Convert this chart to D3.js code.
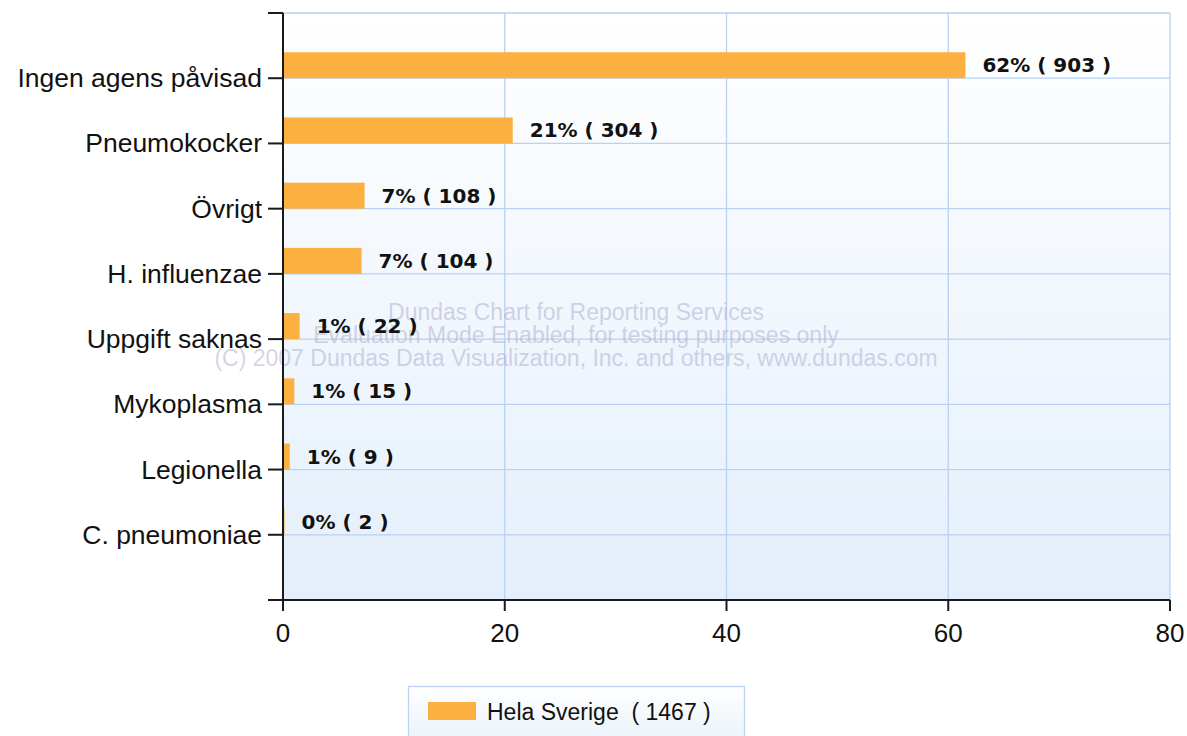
<!DOCTYPE html>
<html><head><meta charset="utf-8">
<script src="https://cdn.jsdelivr.net/npm/d3@7"></script>
<style>
html,body{margin:0;padding:0;background:#fff;}
svg{display:block;}
</style></head>
<body>
<svg id="chart" width="1187" height="736"></svg>
<script>
const categories = ["Ingen agens påvisad","Pneumokocker","Övrigt","H. influenzae","Uppgift saknas","Mykoplasma","Legionella","C. pneumoniae"];
const percentValues = [61.55, 20.72, 7.36, 7.09, 1.50, 1.02, 0.61, 0.14];
const counts = [903, 304, 108, 104, 22, 15, 9, 2];
const pctLabels = ["62%","21%","7%","7%","1%","1%","1%","0%"];
const xTicks = [0, 20, 40, 60, 80];
const seriesName = "Hela Sverige";
const seriesTotal = 1467;

(function(){
const svg = d3.select("#chart");
const pl = 283, pr = 1170, pt = 13, pb = 600;
const barColor = "#fbb040";

const defs = svg.append("defs");
const grad = defs.append("linearGradient").attr("id","bg").attr("x1",0).attr("y1",0).attr("x2",0).attr("y2",1);
grad.append("stop").attr("offset","0%").attr("stop-color","#ffffff");
grad.append("stop").attr("offset","100%").attr("stop-color","#e4effb");
const lgrad = defs.append("linearGradient").attr("id","lbg").attr("x1",0).attr("y1",0).attr("x2",0).attr("y2",1);
lgrad.append("stop").attr("offset","0%").attr("stop-color","#ffffff");
lgrad.append("stop").attr("offset","100%").attr("stop-color","#e8f1fb");

const x = d3.scaleLinear().domain([0, 80]).range([pl, pr]);
// 8 categories in 9 intervals (empty slot top and bottom)
const yIdx = d3.scaleLinear().domain([0, categories.length + 1]).range([pt, pb]);
const yPos = (c) => yIdx(categories.indexOf(c) + 1);

svg.append("rect").attr("x", pl).attr("y", pt).attr("width", pr-pl).attr("height", pb-pt).attr("fill","url(#bg)");

// vertical gridlines
svg.append("g").selectAll("line").data(xTicks.slice(1)).join("line")
  .attr("x1", d=>x(d)).attr("x2", d=>x(d)).attr("y1", pt).attr("y2", pb)
  .attr("stroke","#b9d1f2").attr("stroke-width",1.3);
// horizontal gridlines
svg.append("g").selectAll("line").data(categories).join("line")
  .attr("x1", pl).attr("x2", pr).attr("y1", d=>yPos(d)).attr("y2", d=>yPos(d))
  .attr("stroke","#b9d1f2").attr("stroke-width",1.3);
svg.append("line").attr("x1",pl).attr("x2",pr).attr("y1",pt).attr("y2",pt).attr("stroke","#b9d1f2").attr("stroke-width",1.3);

// watermark
const wm = svg.append("g").attr("font-family","Liberation Sans, Arial, sans-serif").attr("font-size",23).attr("fill","#b0b0d0").attr("fill-opacity",0.55);
wm.append("text").attr("x",576).attr("y",320).attr("text-anchor","middle").text("Dundas Chart for Reporting Services");
wm.append("text").attr("x",576).attr("y",343).attr("text-anchor","middle").text("Evaluation Mode Enabled, for testing purposes only");
wm.append("text").attr("x",576).attr("y",366).attr("text-anchor","middle").text("(C) 2007 Dundas Data Visualization, Inc. and others, www.dundas.com");

// bars
const barH = 26;
svg.append("g").selectAll("rect").data(categories).join("rect")
  .attr("x", x(0)).attr("y", (d)=>yPos(d) - barH)
  .attr("width", (d,i)=>x(percentValues[i]) - x(0)).attr("height", barH)
  .attr("fill", barColor);

// value labels
svg.append("g").selectAll("text").data(categories).join("text")
  .attr("x", (d,i)=>x(percentValues[i]) + 17)
  .attr("y", (d)=>yPos(d) - barH/2 + 7)
  .attr("font-family","DejaVu Sans, Verdana, sans-serif").attr("font-weight","bold")
  .attr("font-size",20).attr("fill","#111")
  .attr("xml:space","preserve")
  .text((d,i)=>`${pctLabels[i]} ( ${counts[i]} )`);

// y axis
const yAxisG = svg.append("g").attr("font-family","Liberation Sans, Arial, sans-serif");
yAxisG.append("line").attr("x1",pl).attr("x2",pl).attr("y1",pt).attr("y2",pb).attr("stroke","#1a1a1a").attr("stroke-width",2);
yAxisG.selectAll("line.t").data([pt].concat(categories.map(yPos)).concat([pb])).join("line").attr("class","t")
  .attr("x1",pl-15).attr("x2",pl).attr("y1",d=>d).attr("y2",d=>d).attr("stroke","#1a1a1a").attr("stroke-width",2);
yAxisG.selectAll("text").data(categories).join("text")
  .attr("x", pl-21).attr("y", d=>yPos(d)+9).attr("text-anchor","end")
  .attr("font-size",26.5).attr("fill","#111").text(d=>d);

// x axis
const xAxisG = svg.append("g").attr("font-family","Liberation Sans, Arial, sans-serif");
xAxisG.append("line").attr("x1",pl-15).attr("x2",pr).attr("y1",pb).attr("y2",pb).attr("stroke","#1a1a1a").attr("stroke-width",2);
xAxisG.selectAll("line.t").data(xTicks).join("line").attr("class","t")
  .attr("x1",d=>x(d)).attr("x2",d=>x(d)).attr("y1",pb).attr("y2",pb+11).attr("stroke","#1a1a1a").attr("stroke-width",2);
xAxisG.selectAll("text").data(xTicks).join("text")
  .attr("x",d=>x(d)).attr("y",pb+42).attr("text-anchor","middle")
  .attr("font-size",26).attr("fill","#111").text(d=>d);

// legend
const lg = svg.append("g");
lg.append("rect").attr("x",408.5).attr("y",686.5).attr("width",336).attr("height",60).attr("fill","url(#lbg)").attr("stroke","#bcd3f1").attr("stroke-width",1.3);
lg.append("rect").attr("x",428).attr("y",702).attr("width",48).attr("height",18).attr("fill",barColor);
lg.append("text").attr("x",487).attr("y",720).attr("font-family","Liberation Sans, Arial, sans-serif").attr("font-size",23).attr("fill","#111")
  .attr("xml:space","preserve").text(`${seriesName}  ( ${seriesTotal} )`);
})();
</script>
</body></html>
